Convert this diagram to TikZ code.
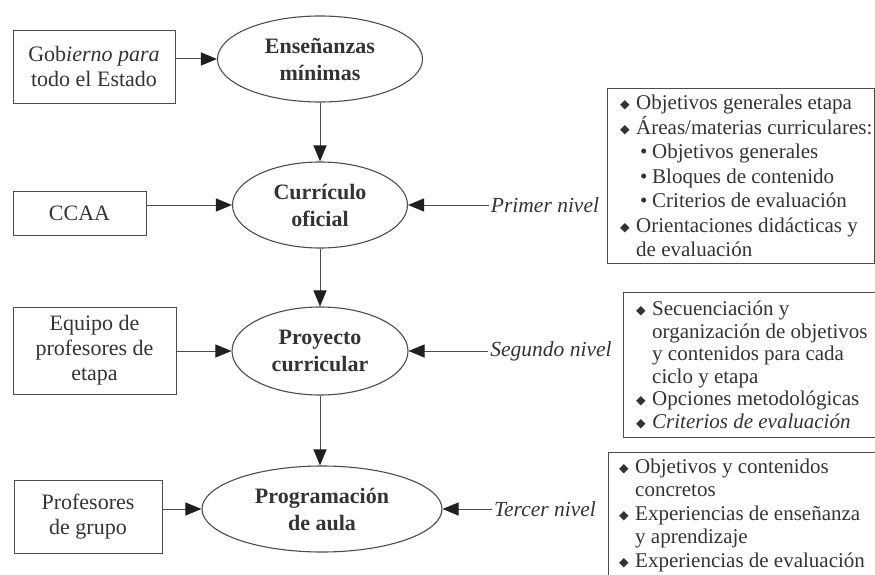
\documentclass[tikz,border=0pt]{standalone}
\usepackage{fontspec}
\setmainfont{Liberation Serif}
\newfontfamily\symf{DejaVu Sans}
\usetikzlibrary{arrows.meta,shapes.geometric}
\definecolor{ink}{gray}{0.2}
\definecolor{edge}{gray}{0.3}
\definecolor{tip}{gray}{0.12}
\newcommand{\dm}{\makebox[16pt][l]{\raisebox{0.8pt}{\symf\fontsize{12.5}{12.5}\selectfont ◆}}}
\newcommand{\sdt}{\hspace*{20pt}\makebox[12pt][l]{•}}
\newcommand{\ind}{\hspace*{16pt}}
\begin{document}
\begin{tikzpicture}[x=1pt,y=-1pt,
  every node/.style={text=ink},
  src/.style={draw=edge, line width=0.9pt, rectangle, align=center,
    font=\fontsize{22}{25}\selectfont, inner sep=0pt},
  oval/.style={draw=edge, line width=1.1pt, ellipse, align=center,
    font=\fontsize{22}{27}\selectfont\bfseries, inner sep=0pt},
  lvl/.style={font=\fontsize{21.5}{24}\selectfont\itshape, inner sep=2pt},
  infobox/.style={draw=edge, line width=0.9pt, rectangle, anchor=north west, inner sep=0pt},
  listtext/.style={align=left, inner sep=0pt, anchor=west},
  arr/.style={draw=edge, line width=1pt, -{Triangle[length=16pt,width=13pt,color=tip]}}
]
\useasboundingbox (0,0) rectangle (875,575);
\clip (0,0) rectangle (875,575);

% left sources
\node[src, minimum width=162pt, minimum height=73pt] (g) at (94,66.5)
  {Gob\textit{ierno para}\\todo el Estado};
\node[src, minimum width=133pt, minimum height=44pt] (c) at (79.5,213) {CCAA};
\node[src, minimum width=163pt, minimum height=87pt] (q) at (94.5,350.5)
  {Equipo de\\profesores de\\etapa};
\node[src, minimum width=148pt, minimum height=73pt] (p) at (88,516.5)
  {Profesores\\de grupo};

% ovals
\node[oval, minimum width=205pt, minimum height=86pt] (e1) at (320,59) {Enseñanzas\\mínimas};
\node[oval, minimum width=175pt, minimum height=86pt] (e2) at (320,205) {Currículo\\oficial};
\node[oval, minimum width=176pt, minimum height=88pt] (e3) at (320,351) {Proyecto\\curricular};
\node[oval, minimum width=240pt, minimum height=86pt] (e4) at (322,509) {Programación\\de aula};

% levels
\node[lvl] (l1) at (545,205) {Primer nivel};
\node[lvl] (l2) at (551,351) {Segundo nivel};
\node[lvl] (l3) at (545,509) {Tercer nivel};

% right boxes
\node[infobox, minimum width=267pt, minimum height=175pt] (r1) at (607,88) {};
\node[listtext, font=\fontsize{21}{24.5}\selectfont] (r1t) at ([xshift=13pt]r1.west)
  {\dm Objetivos generales etapa\\
   \dm Áreas/materias curriculares:\\
   \sdt Objetivos generales\\
   \sdt Bloques de contenido\\
   \sdt Criterios de evaluación\\
   \dm Orientaciones didácticas y\\
   \ind de evaluación};

\node[infobox, minimum width=253pt, minimum height=145pt] (r2) at (623,292) {};
\node[listtext, font=\fontsize{21}{22.5}\selectfont] (r2t) at ([xshift=13pt]r2.west)
  {\dm Secuenciación y\\
   \ind organización de objetivos\\
   \ind y contenidos para cada\\
   \ind ciclo y etapa\\
   \dm Opciones metodológicas\\
   \dm \textit{Criterios de evaluación}};

\node[infobox, minimum width=268pt, minimum height=125pt] (r3) at (608,452) {};
\node[listtext, font=\fontsize{21}{23.5}\selectfont] (r3t) at ([xshift=11pt]r3.west)
  {\dm Objetivos y contenidos\\
   \ind concretos\\
   \dm Experiencias de enseñanza\\
   \ind y aprendizaje\\
   \dm Experiencias de evaluación};

% connectors
\draw[arr] (g.east |- e1.west) -- (e1.west);
\draw[arr] (c.east |- e2.west) -- (e2.west);
\draw[arr] (q.east |- e3.west) -- (e3.west);
\draw[arr] (p.east |- e4.west) -- (e4.west);
\draw[arr] (e1.south) -- (e2.north);
\draw[arr] (e2.south) -- (e3.north);
\draw[arr] (e3.south) -- (e3.south |- e4.north);
\draw[arr] (l1.west) -- (e2.east);
\draw[arr] (l2.west) -- (e3.east);
\draw[arr] (l3.west) -- (e4.east);
\end{tikzpicture}
\end{document}
